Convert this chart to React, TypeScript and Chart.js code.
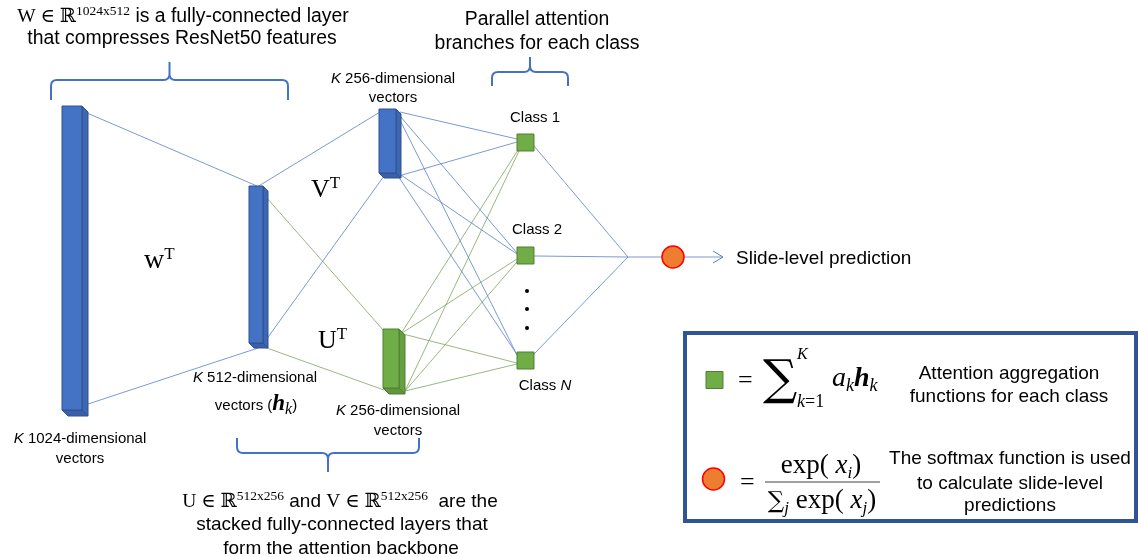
import React, { useEffect, useRef } from "react";
import { Chart, registerables } from "chart.js";
Chart.register(...registerables);

const CW = 1138;
const CH = 557;

// ---- diagram data (in diagram units, mapped through the chart's linear scales) ----
const classLabels = ["Class 1", "Class 2", "Class N"];
const classX = [525.5, 525.5, 525.5];
const classY = [142.5, 255.5, 360.5];
const dotX = [527, 527, 527];
const dotY = [291, 309, 328];
const circleX = [673, 713.5];
const circleY = [257, 479];
const legendSquareX = [714.5];
const legendSquareY = [380];

// [x1, y1, x2, y2]
const blueLinks = [
  [87, 113, 257, 186],
  [88, 404, 258, 348],
  [257, 187, 380, 112],
  [266, 340, 384, 176],
  [400, 112, 517, 139],
  [402, 175, 517, 142],
  [400, 116, 517, 253],
  [401, 175, 517, 254],
  [399, 118, 517, 355],
  [398, 176, 518, 356],
  [534, 146, 628, 257],
  [534, 256, 628, 257],
  [534, 354, 628, 257],
  [628, 257, 662, 257],
  [684, 257, 723, 257],
];
const greenLinks = [
  [266, 197, 384, 331],
  [264, 347, 384, 390],
  [402, 332, 518, 150],
  [405, 391, 519, 151],
  [402, 333, 517, 259],
  [405, 391, 517, 262],
  [403, 334, 517, 363],
  [405, 391, 517, 364],
];
const arrowHeadX = [713, 723, 713];
const arrowHeadY = [251, 257, 263];

// 3D boxes: [x0, x1, y0, y1, depth]
const blueBoxes = [
  [62, 82, 106, 410, 6],
  [249, 263, 186, 343, 5],
  [379, 396, 109, 173, 5],
];
const greenBoxes = [[383, 399, 329, 388, 6]];

// braces: [x1, x2, yArms, yBar, yTip]
const braces = [
  [51, 288, 100, 80, 62],
  [492, 568, 86, 72, 57],
  [237, 419, 438, 453, 472],
];

// legend frame [x0, y0, x1, y1] and fraction bar [x0, x1, y]
const legendFrame = [685, 333, 1136, 521];
const fractionBar = [765, 880, 482];

const SANS = '"Liberation Sans", Arial, sans-serif';
const SERIF = '"Liberation Serif", "DejaVu Serif", serif';
const SYM = '"DejaVu Serif", serif';
const f = (style: string, size: number, fam: string) => `${style} ${size}px ${fam}`;

type Run = [string, string, number];
type Label = { x: number; y: number; align: "left" | "center"; runs: Run[] };

const labels: Label[] = [
  {
    x: 183, y: 22, align: "center",
    runs: [
      ["W ∈ ℝ", f("", 19.5, SERIF), 0],
      ["1024x512", f("", 13.5, SERIF), -7],
      [" is a fully-connected layer", f("", 19.4, SANS), 0],
    ],
  },
  { x: 182, y: 44, align: "center", runs: [["that compresses ResNet50 features", f("", 19.4, SANS), 0]] },
  { x: 537, y: 25, align: "center", runs: [["Parallel attention", f("", 19.4, SANS), 0]] },
  { x: 537, y: 49, align: "center", runs: [["branches for each class", f("", 19.4, SANS), 0]] },
  { x: 393, y: 83, align: "center", runs: [["K", f("italic", 15, SANS), 0], [" 256-dimensional", f("", 15, SANS), 0]] },
  { x: 393, y: 102, align: "center", runs: [["vectors", f("", 15, SANS), 0]] },
  { x: 311, y: 197, align: "left", runs: [["V", f("", 26, SERIF), 0], ["T", f("", 17, SERIF), -9]] },
  { x: 318, y: 348, align: "left", runs: [["U", f("", 26, SERIF), 0], ["T", f("", 17, SERIF), -9]] },
  { x: 144, y: 268, align: "left", runs: [["w", f("", 28, SERIF), 0], ["T", f("", 17, SERIF), -9]] },
  { x: 255, y: 382, align: "center", runs: [["K", f("italic", 15, SANS), 0], [" 512-dimensional", f("", 15, SANS), 0]] },
  {
    x: 256, y: 410, align: "center",
    runs: [
      ["vectors (", f("", 15, SANS), 0],
      ["h", f("bold italic", 23, SERIF), 0],
      ["k", f("italic", 16, SERIF), 4],
      [")", f("", 15, SANS), 0],
    ],
  },
  { x: 80, y: 443, align: "center", runs: [["K", f("italic", 15, SANS), 0], [" 1024-dimensional", f("", 15, SANS), 0]] },
  { x: 80, y: 463, align: "center", runs: [["vectors", f("", 15, SANS), 0]] },
  { x: 398, y: 415, align: "center", runs: [["K", f("italic", 15, SANS), 0], [" 256-dimensional", f("", 15, SANS), 0]] },
  { x: 398, y: 435, align: "center", runs: [["vectors", f("", 15, SANS), 0]] },
  { x: 535, y: 122, align: "center", runs: [[classLabels[0], f("", 15, SANS), 0]] },
  { x: 537, y: 234, align: "center", runs: [[classLabels[1], f("", 15, SANS), 0]] },
  { x: 545, y: 390, align: "center", runs: [["Class ", f("", 15, SANS), 0], ["N", f("italic", 15, SANS), 0]] },
  { x: 736, y: 264, align: "left", runs: [["Slide-level prediction", f("", 19, SANS), 0]] },
  {
    x: 340, y: 507, align: "center",
    runs: [
      ["U ∈ ℝ", f("", 19.5, SERIF), 0],
      ["512x256", f("", 13.5, SERIF), -7],
      [" and ", f("", 19, SANS), 0],
      ["V ∈ ℝ", f("", 19.5, SERIF), 0],
      ["512x256", f("", 13.5, SERIF), -7],
      ["  are the", f("", 19, SANS), 0],
    ],
  },
  { x: 342, y: 530, align: "center", runs: [["stacked fully-connected layers that", f("", 19, SANS), 0]] },
  { x: 341, y: 554, align: "center", runs: [["form the attention backbone", f("", 19, SANS), 0]] },
  // legend
  { x: 738, y: 388, align: "left", runs: [["=", f("", 26, SERIF), 0]] },
  { x: 763, y: 394, align: "left", runs: [["∑", f("", 48, SYM), 0]] },
  { x: 797, y: 359, align: "left", runs: [["K", f("italic", 16, SERIF), 0]] },
  { x: 797, y: 407, align: "left", runs: [["k", f("italic", 18, SERIF), 0], ["=1", f("", 18, SERIF), 0]] },
  {
    x: 832, y: 386, align: "left",
    runs: [
      ["a", f("italic", 28, SERIF), 0],
      ["k", f("italic", 18, SERIF), 5],
      ["h", f("bold italic", 28, SERIF), 0],
      ["k", f("italic", 18, SERIF), 5],
    ],
  },
  { x: 1009, y: 379, align: "center", runs: [["Attention aggregation", f("", 19, SANS), 0]] },
  { x: 1009, y: 402, align: "center", runs: [["functions for each class", f("", 19, SANS), 0]] },
  { x: 740, y: 490, align: "left", runs: [["=", f("", 26, SERIF), 0]] },
  {
    x: 821, y: 473, align: "center",
    runs: [
      ["exp( ", f("", 27, SERIF), 0],
      ["x", f("italic", 27, SERIF), 0],
      ["i", f("italic", 17, SERIF), 5],
      [")", f("", 27, SERIF), 0],
    ],
  },
  {
    x: 822, y: 508, align: "center",
    runs: [
      ["∑", f("", 23, SYM), 0],
      ["j", f("italic", 17, SERIF), 5],
      [" exp( ", f("", 27, SERIF), 0],
      ["x", f("italic", 27, SERIF), 0],
      ["j", f("italic", 17, SERIF), 5],
      [")", f("", 27, SERIF), 0],
    ],
  },
  { x: 1010, y: 464, align: "center", runs: [["The softmax function is used", f("", 19, SANS), 0]] },
  { x: 1010, y: 489, align: "center", runs: [["to calculate slide-level", f("", 19, SANS), 0]] },
  { x: 1010, y: 511, align: "center", runs: [["predictions", f("", 19, SANS), 0]] },
];

const BLUE = "#4472C4";
const BLUE_DARK = "#2F528F";
const GREEN = "#70AD47";
const GREEN_DARK = "#507E32";

const diagramPlugin = {
  id: "diagram",
  beforeDatasetsDraw(chart: any) {
    const ctx: CanvasRenderingContext2D = chart.ctx;
    const X = (v: number) => chart.scales.x.getPixelForValue(v);
    const Y = (v: number) => chart.scales.y.getPixelForValue(v);
    ctx.save();
    ctx.strokeStyle = BLUE;
    ctx.lineWidth = 2;
    ctx.lineJoin = "round";
    for (const [x1, x2, ya, yb, yt] of braces) {
      const xm = (x1 + x2) / 2;
      const s = yt < yb ? -1 : 1; // direction of tip
      const r = 6;
      ctx.beginPath();
      ctx.moveTo(X(x1), Y(ya));
      ctx.lineTo(X(x1), Y(yb - s * r));
      ctx.quadraticCurveTo(X(x1), Y(yb), X(x1 + r), Y(yb));
      ctx.lineTo(X(xm - r), Y(yb));
      ctx.quadraticCurveTo(X(xm), Y(yb), X(xm), Y(yb + s * r));
      ctx.lineTo(X(xm), Y(yt));
      ctx.moveTo(X(x2), Y(ya));
      ctx.lineTo(X(x2), Y(yb - s * r));
      ctx.quadraticCurveTo(X(x2), Y(yb), X(x2 - r), Y(yb));
      ctx.lineTo(X(xm + r), Y(yb));
      ctx.quadraticCurveTo(X(xm), Y(yb), X(xm), Y(yb + s * r));
      ctx.stroke();
    }
    ctx.restore();
  },
  afterDatasetsDraw(chart: any) {
    const ctx: CanvasRenderingContext2D = chart.ctx;
    const X = (v: number) => chart.scales.x.getPixelForValue(v);
    const Y = (v: number) => chart.scales.y.getPixelForValue(v);
    ctx.save();
    const drawBox = (b: number[], front: string, side: string, bottom: string, edge: string) => {
      const [x0, x1, y0, y1, d] = b;
      ctx.lineWidth = 1;
      ctx.strokeStyle = edge;
      ctx.fillStyle = side;
      ctx.beginPath();
      ctx.moveTo(X(x1), Y(y0));
      ctx.lineTo(X(x1 + d), Y(y0 + d));
      ctx.lineTo(X(x1 + d), Y(y1 + d));
      ctx.lineTo(X(x1), Y(y1));
      ctx.closePath();
      ctx.fill();
      ctx.stroke();
      ctx.fillStyle = bottom;
      ctx.beginPath();
      ctx.moveTo(X(x0), Y(y1));
      ctx.lineTo(X(x1), Y(y1));
      ctx.lineTo(X(x1 + d), Y(y1 + d));
      ctx.lineTo(X(x0 + d), Y(y1 + d));
      ctx.closePath();
      ctx.fill();
      ctx.stroke();
      ctx.fillStyle = front;
      ctx.beginPath();
      ctx.rect(X(x0), Y(y0), X(x1) - X(x0), Y(y1) - Y(y0));
      ctx.fill();
      ctx.stroke();
    };
    for (const b of blueBoxes) drawBox(b, BLUE, "#3D67B3", "#3A60A8", BLUE_DARK);
    for (const b of greenBoxes) drawBox(b, GREEN, "#66A040", "#5F963B", GREEN_DARK);

    // legend frame
    const [lx0, ly0, lx1, ly1] = legendFrame;
    ctx.strokeStyle = "#2F5597";
    ctx.lineWidth = 4;
    ctx.strokeRect(X(lx0), Y(ly0), X(lx1) - X(lx0), Y(ly1) - Y(ly0));

    // fraction bar
    ctx.strokeStyle = "#8A7B7B";
    ctx.lineWidth = 1.5;
    ctx.beginPath();
    ctx.moveTo(X(fractionBar[0]), Y(fractionBar[2]));
    ctx.lineTo(X(fractionBar[1]), Y(fractionBar[2]));
    ctx.stroke();

    // texts
    ctx.fillStyle = "#000";
    ctx.textBaseline = "alphabetic";
    ctx.textAlign = "left";
    for (const l of labels) {
      let total = 0;
      const widths: number[] = [];
      for (const [t, font] of l.runs) {
        ctx.font = font;
        const w = ctx.measureText(t).width;
        widths.push(w);
        total += w;
      }
      let sx = l.align === "center" ? X(l.x) - total / 2 : X(l.x);
      l.runs.forEach(([t, font, dy], i) => {
        ctx.font = font;
        ctx.fillText(t, sx, Y(l.y + dy));
        sx += widths[i];
      });
    }
    ctx.restore();
  },
};

export default function App() {
  const ref = useRef<HTMLCanvasElement | null>(null);
  useEffect(() => {
    if (!ref.current) return;
    const lineDs = (links: number[][], color: string) =>
      links.map((l) => ({
        type: "line" as const,
        data: [
          { x: l[0], y: l[1] },
          { x: l[2], y: l[3] },
        ],
        borderColor: color,
        borderWidth: 0.8,
        pointRadius: 0,
        showLine: true,
        tension: 0,
        fill: false,
        clip: false,
        order: 2,
      }));
    const chart = new Chart(ref.current, {
      type: "scatter",
      data: {
        datasets: [
          {
            data: classX.map((x, i) => ({ x, y: classY[i] })).concat(
              legendSquareX.map((x, i) => ({ x, y: legendSquareY[i] }))
            ),
            pointStyle: "rect",
            pointRadius: 12,
            pointHoverRadius: 12,
            backgroundColor: GREEN,
            borderColor: GREEN_DARK,
            borderWidth: 1,
            clip: false,
            order: 0,
          } as any,
          {
            data: circleX.map((x, i) => ({ x, y: circleY[i] })),
            pointStyle: "circle",
            pointRadius: 11,
            backgroundColor: "#ED7D31",
            borderColor: "#FF0000",
            borderWidth: 1.5,
            clip: false,
            order: 0,
          },
          {
            data: dotX.map((x, i) => ({ x, y: dotY[i] })),
            pointStyle: "circle",
            pointRadius: 2,
            backgroundColor: "#000",
            borderColor: "#000",
            borderWidth: 0,
            order: 0,
          },
          {
            type: "line",
            data: arrowHeadX.map((x, i) => ({ x, y: arrowHeadY[i] })),
            borderColor: "#5B7FC7",
            borderWidth: 1,
            pointRadius: 0,
            showLine: true,
            tension: 0,
            fill: false,
            order: 1,
          } as any,
          ...lineDs(blueLinks, "#5B7FC7"),
          ...lineDs(greenLinks, "#7FA660"),
        ] as any,
      },
      options: {
        responsive: false,
        maintainAspectRatio: false,
        animation: false,
        events: [],
        layout: { padding: 0, autoPadding: false },
        scales: {
          x: { type: "linear", min: 0, max: CW, display: false },
          y: { type: "linear", min: 0, max: CH, reverse: true, display: false },
        },
        plugins: { legend: { display: false }, tooltip: { enabled: false } },
      } as any,
      plugins: [diagramPlugin],
    });
    return () => chart.destroy();
  }, []);
  return (
    <div style={{ position: "absolute", left: 0, top: 0, width: CW, height: CH, background: "#fff" }}>
      <canvas ref={ref} width={CW} height={CH} style={{ width: CW, height: CH, display: "block" }} />
    </div>
  );
}
